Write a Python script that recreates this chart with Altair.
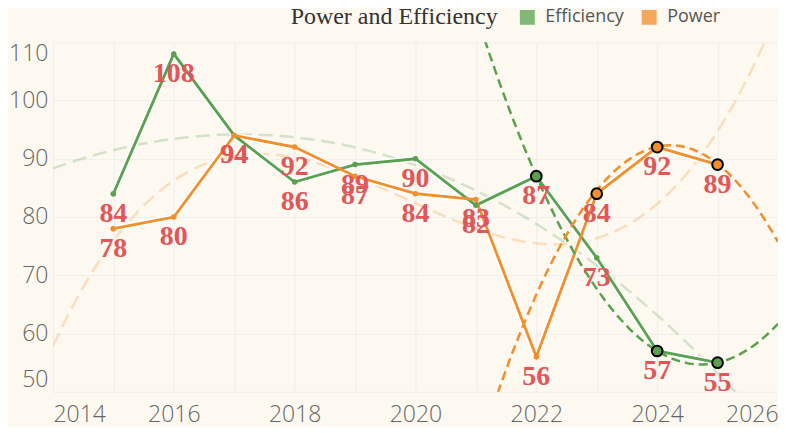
import altair as alt
import pandas as pd

# ---- data ----
years = list(range(2015, 2026))
efficiency = [84, 108, 94, 86, 89, 90, 82, 87, 73, 57, 55]
power = [78, 80, 94, 92, 87, 84, 83, 56, 84, 92, 89]
series_names = ["Efficiency", "Power"]
series_colors = ["#59a14f", "#f28e2b"]
efficiency_marked_years = [2022, 2024, 2025]
power_marked_years = [2023, 2024, 2025]
# local Power trend
power_trend_years = [2022, 2023, 2024, 2025, 2026]
power_trend_values = [66.7, 84.5, 92.3, 88.9, 75.8]
x_ticks = list(range(2014, 2027))
y_ticks = [50, 60, 70, 80, 90, 100, 110]

rows = []
for y, v in zip(years, efficiency):
    rows.append({"year": y, "value": v, "series": "Efficiency",
                 "marked": y in efficiency_marked_years})
for y, v in zip(years, power):
    rows.append({"year": y, "value": v, "series": "Power",
                 "marked": y in power_marked_years})
df = pd.DataFrame(rows)
trend_df = pd.DataFrame({"year": power_trend_years, "value": power_trend_values,
                         "series": ["Power"] * len(power_trend_years)})

xs = alt.X("year:Q", scale=alt.Scale(domain=[2014, 2026], nice=False),
           axis=alt.Axis(values=x_ticks, format="d",
                         labelExpr="datum.value % 2 == 0 ? datum.label : ''",
                         labelFlush=True, labelOverlap=False, title=None,
                         labelPadding=12))
ys = alt.Y("value:Q", scale=alt.Scale(domain=[50, 110], nice=False, zero=False),
           axis=alt.Axis(values=y_ticks, labelFlush=True, title=None, labelPadding=5))
cscale = alt.Scale(domain=series_names, range=series_colors)
leg = alt.Legend(title="Power and Efficiency", orient="none", legendX=238, legendY=-34,
                 direction="horizontal", titleOrient="left", symbolType="square",
                 titleLimit=400)
col = alt.Color("series:N", scale=cscale, legend=leg)

base = alt.Chart(df)

pts_legend = base.mark_circle(size=30, opacity=1).encode(x=xs, y=ys, color=col)

faint = base.transform_regression(
    "year", "value", groupby=["series"], method="poly", order=3, extent=[2014, 2026]
).mark_line(strokeDash=[14, 7], strokeWidth=2.5, opacity=0.25, clip=True).encode(
    x=xs, y=ys, color=col)

halo = base.mark_line(color="white", strokeWidth=6, opacity=0.9).encode(
    x=xs, y=ys, detail="series:N")
lines = base.mark_line(strokeWidth=2.8).encode(x=xs, y=ys, color=col)

strong_eff = base.transform_filter(
    "datum.marked && datum.series == 'Efficiency'"
).transform_regression(
    "year", "value", groupby=["series"], method="poly", order=2, extent=[2021, 2026]
).mark_line(strokeDash=[9, 5], strokeWidth=2.5, clip=True).encode(
    x=xs, y=ys, color=col)

strong_pow = alt.Chart(trend_df).transform_regression(
    "year", "value", groupby=["series"], method="poly", order=2, extent=[2021, 2026]
).mark_line(strokeDash=[9, 5], strokeWidth=2.5, clip=True).encode(
    x=xs, y=ys, color=col)

pts = base.mark_circle(size=30, opacity=1).encode(x=xs, y=ys, color=col)
marked = base.transform_filter("datum.marked").mark_circle(
    size=115, opacity=1, stroke="black", strokeWidth=2).encode(
    x=xs, y=ys, color=col)

labels = base.mark_text(font="Liberation Serif", fontWeight="bold", fontSize=28,
                        color="#e15759", baseline="middle", dy=20).encode(
    x=xs, y=ys, text="value:Q")

chart = alt.layer(pts_legend, faint, halo, lines, strong_eff, strong_pow, pts, marked,
                  labels).properties(
    width=726, height=350, background="#fdf9f0",
    padding={"left": 0, "top": 0, "right": 0, "bottom": 0}
).configure_view(stroke=None).configure_axis(
    grid=True, gridColor="#eeeeee", gridWidth=1, ticks=False, tickSize=0, domain=False,
    labelFont="Open Sans", labelFontSize=23, labelColor="#666666", labelFontWeight=300
).configure_legend(
    titleFont="Liberation Serif", titleFontSize=24, titleColor="#333333",
    titleFontWeight="normal", titlePadding=20,
    labelFont="Open Sans", labelFontSize=18, labelColor="#555555",
    symbolSize=180, symbolOpacity=0.75,
    columnPadding=15, labelOffset=9, padding=0
)

chart.save("out.html", embed_options={"renderer": "svg", "actions": False})
